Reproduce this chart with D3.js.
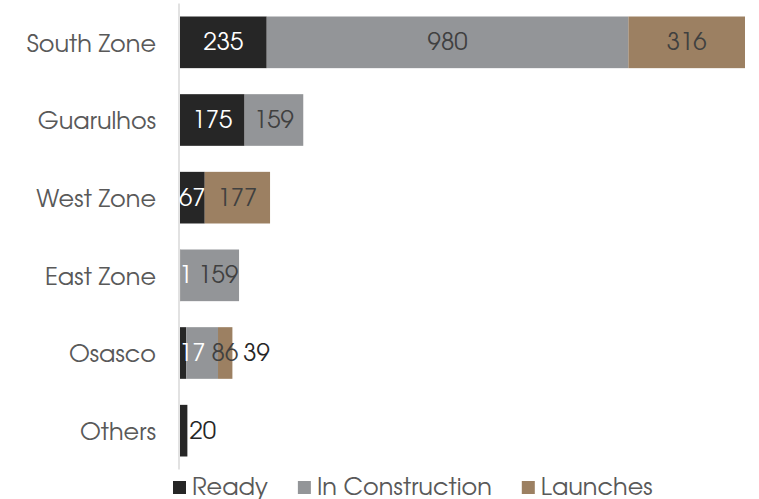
<!DOCTYPE html>
<html>
<head>
<meta charset="utf-8">
<script src="https://cdn.jsdelivr.net/npm/d3@7"></script>
<style>
  html, body { margin: 0; padding: 0; background: #ffffff; }
  svg { display: block; }
  text { font-family: "Century Gothic", "URW Gothic", "TeX Gyre Adventor", Lato, "Noto Sans", sans-serif; }
</style>
</head>
<body>
<svg id="chart" width="759" height="499"></svg>
<script>
// Units by region, split by stage
const categories   = ["South Zone", "Guarulhos", "West Zone", "East Zone", "Osasco", "Others"];
const ready        = [235, 175, 67, 1, 17, 20];
const construction = [980, 159, 0, 159, 86, 0];
const launches     = [316, 0, 177, 0, 39, 0];

const seriesNames  = ["Ready", "In Construction", "Launches"];
const seriesColors = ["#262626", "#939598", "#9c8062"];
const labelColors  = ["#ffffff", "#404040", "#404040"];

const rows = categories.map((c, i) => ({
  category: c,
  Ready: ready[i],
  "In Construction": construction[i],
  Launches: launches[i]
}));

const svg = d3.select("#chart");
const FONT = 24;
const TEXT_DY = 1.5;

const x = d3.scaleLinear()
  .domain([0, d3.max(rows, d => d.Ready + d["In Construction"] + d.Launches)])
  .range([180, 745]);

const y = d3.scaleBand()
  .domain(categories)
  .range([3.5, 469.5])
  .paddingInner(0.335)
  .paddingOuter(0.1675);

const stack = d3.stack().keys(seriesNames);
const layers = stack(rows);

// Stacked bar segments
const layerG = svg.append("g").selectAll("g")
  .data(layers)
  .join("g")
  .attr("fill", (d, i) => seriesColors[i]);

layerG.selectAll("rect")
  .data(d => d.map(s => ({ s, key: d.key })))
  .join("rect")
  .filter(d => d.s[1] > d.s[0])
  .attr("x", d => x(d.s[0]))
  .attr("width", d => x(d.s[1]) - x(d.s[0]))
  .attr("y", d => y(d.s.data.category))
  .attr("height", y.bandwidth());

// Category axis line
svg.append("line")
  .attr("x1", 179).attr("x2", 179)
  .attr("y1", y.range()[0]).attr("y2", y.range()[1])
  .attr("stroke", "#d9d9d9")
  .attr("stroke-width", 1.5);

// Category labels
const yAxis = d3.axisLeft(y).tickSize(0).tickPadding(0);
const axisG = svg.append("g")
  .attr("transform", `translate(156,${TEXT_DY})`)
  .call(yAxis);
axisG.select(".domain").remove();
axisG.selectAll("text")
  .attr("font-size", FONT)
  .attr("fill", "#595959")
  .style("font-family", null);

// Data labels: centred in their segment, pushed right when they would collide
const labelG = svg.append("g");
const GAP = 5;
rows.forEach((row, ri) => {
  const cy = y(row.category) + y.bandwidth() / 2 + TEXT_DY;
  const segs = [];
  layers.forEach((layer, li) => {
    const s = layer[ri];
    if (s[1] > s[0]) segs.push({ li, v: s[1] - s[0], x0: x(s[0]), x1: x(s[1]) });
  });
  let prevRight = x(0) - 1;
  segs.forEach((seg, k) => {
    const t = labelG.append("text")
      .attr("font-size", FONT)
      .attr("dominant-baseline", "central")
      .text(seg.v);
    const w = t.node().getComputedTextLength();
    const isLast = k === segs.length - 1;
    const segW = seg.x1 - seg.x0;
    let left, color;
    if (isLast && w > segW) {
      // does not fit in the final segment: sits just past the bar end
      left = Math.max(seg.x1 + 2, prevRight + GAP);
      color = "#262626";
    } else {
      left = (seg.x0 + seg.x1) / 2 - w / 2;
      left = Math.max(left, prevRight + (k === 0 ? 0 : GAP + 1));
      color = labelColors[seg.li];
    }
    t.attr("x", left).attr("y", cy).attr("fill", color);
    prevRight = left + w;
  });
});

// Legend
const legend = svg.append("g").attr("transform", "translate(0,487)");
let lx = 173;
seriesNames.forEach((name, i) => {
  legend.append("rect")
    .attr("x", lx).attr("y", -6)
    .attr("width", 13).attr("height", 13)
    .attr("fill", seriesColors[i]);
  const t = legend.append("text")
    .attr("x", lx + 19).attr("y", TEXT_DY)
    .attr("dominant-baseline", "central")
    .attr("font-size", FONT)
    .attr("fill", "#595959")
    .text(name);
  lx += 19 + t.node().getComputedTextLength() + 30;
});
</script>
</body>
</html>
